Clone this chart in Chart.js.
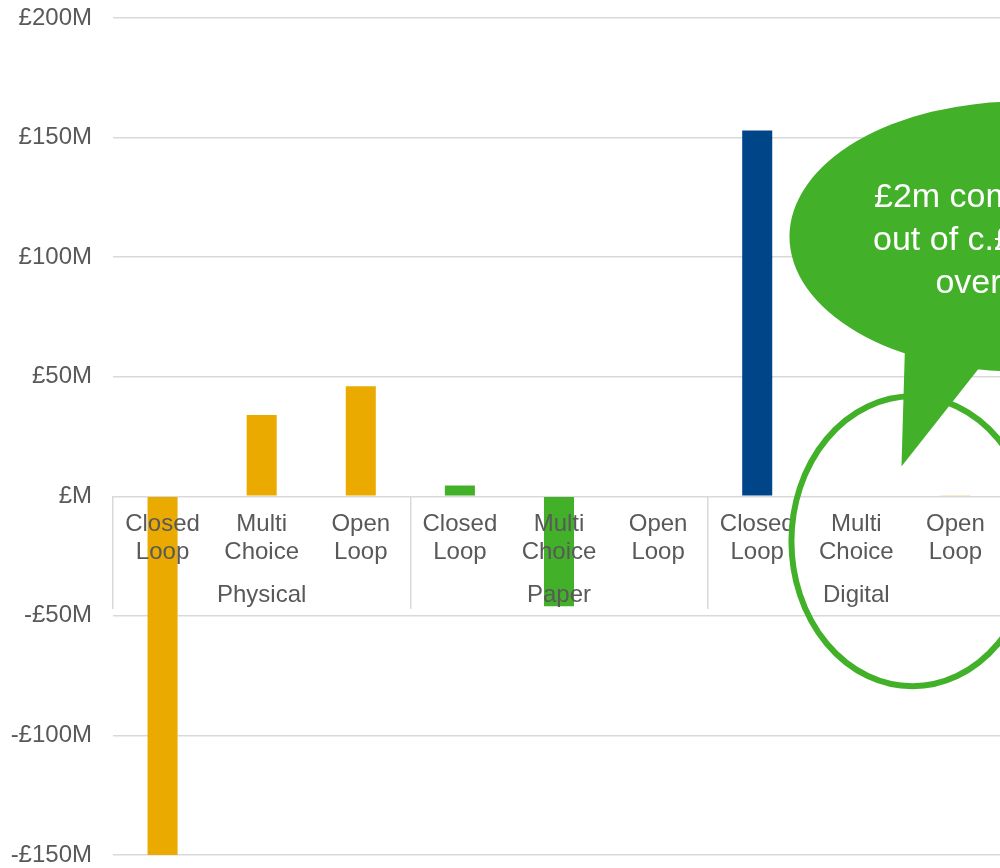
<!DOCTYPE html>
<html lang="en">
<head>
<meta charset="UTF-8">
<title>Gift card value by format</title>
<script src="https://cdn.jsdelivr.net/npm/chart.js"></script>
<style>
  body { margin: 0; padding: 0; overflow: hidden; background: #fff; }
  #wrap { width: 1005px; height: 868px; }
</style>
</head>
<body>
<div id="wrap"><canvas id="valueChart" width="1005" height="868"></canvas></div>
<script>
// card types, repeated for each format
const cardTypes = [
  ['Closed', 'Loop'], ['Multi', 'Choice'], ['Open', 'Loop'],
  ['Closed', 'Loop'], ['Multi', 'Choice'], ['Open', 'Loop'],
  ['Closed', 'Loop'], ['Multi', 'Choice'], ['Open', 'Loop']
];
const formats = ['Physical', 'Paper', 'Digital'];

// value in £M
const values = [-150, 34, 46, 4.5, -46, 0, 153, 0, 0.5];
const barColours = ['#eaaa00', '#eaaa00', '#eaaa00', '#43b02a', '#43b02a', '#43b02a', '#004587', '#004587', '#f3d58a'];

const yMin = -150;
const yMax = 200;
const yStep = 50;

const calloutLines = ['£2m combined', 'out of c.£150m', 'overall'];

const GREEN = '#43b02a';
const GRID = '#d9d9d9';
const TEXT = '#595959';

Chart.defaults.font.family = 'Arial, "Liberation Sans", sans-serif';
Chart.defaults.font.size = 24;
Chart.defaults.color = TEXT;

// speech bubble + ring around the two small digital bars
const calloutPlugin = {
  id: 'callout',
  afterDraw(chart) {
    const { ctx } = chart;
    const x = chart.scales.x;
    const y = chart.scales.y;

    // ring
    const rx = x.getPixelForValue(7.566);
    const ry = y.getPixelForValue(-18.8);
    ctx.save();
    ctx.strokeStyle = GREEN;
    ctx.lineWidth = 6;
    ctx.beginPath();
    ctx.ellipse(rx, ry, 121, 145, 0, 0, Math.PI * 2);
    ctx.stroke();

    // bubble
    const bx = x.getPixelForValue(8.646);
    const by = y.getPixelForValue(108.6);
    ctx.fillStyle = GREEN;
    ctx.beginPath();
    ctx.ellipse(bx, by, 230, 135, 0, 0, Math.PI * 2);
    ctx.fill();
    ctx.beginPath();
    ctx.moveTo(bx - 114, by + 93);
    ctx.lineTo(bx - 118, by + 230);
    ctx.lineTo(bx - 10, by + 93);
    ctx.closePath();
    ctx.fill();

    ctx.fillStyle = '#ffffff';
    ctx.font = '34px Arial, "Liberation Sans", sans-serif';
    ctx.textAlign = 'center';
    ctx.textBaseline = 'alphabetic';
    calloutLines.forEach((line, i) => {
      ctx.fillText(line, bx - 34, by - 30 + i * 43);
    });
    ctx.restore();
  }
};

new Chart(document.getElementById('valueChart'), {
  type: 'bar',
  data: {
    labels: cardTypes,
    datasets: [{
      data: values,
      xAxisID: 'x',
      backgroundColor: barColours,
      borderWidth: 0,
      categoryPercentage: 1,
      barPercentage: 0.303
    }]
  },
  options: {
    responsive: false,
    animation: false,
    layout: { padding: { left: 0, right: 0, top: 18, bottom: 13 } },
    plugins: {
      legend: { display: false },
      tooltip: { enabled: false }
    },
    scales: {
      x: {
        type: 'category',
        position: { y: 0 },
        offset: true,
        grid: { display: false, drawTicks: false },
        border: { display: false },
        ticks: {
          autoSkip: false,
          maxRotation: 0,
          padding: 14,
          z: 1,
          font: { size: 24, lineHeight: 1.17 }
        }
      },
      group: {
        type: 'category',
        axis: 'x',
        labels: formats,
        position: { y: 0 },
        offset: true,
        grid: {
          offset: true,
          drawOnChartArea: false,
          tickLength: 113,
          color: GRID,
          lineWidth: 1.5
        },
        border: { display: false },
        ticks: { padding: -28, z: 1, maxRotation: 0 }
      },
      y: {
        min: yMin,
        max: yMax,
        ticks: {
          stepSize: yStep,
          padding: 21,
          callback: v => (v < 0 ? '-' : '') + '£' + (v === 0 ? '' : Math.abs(v)) + 'M'
        },
        grid: { color: GRID, lineWidth: 1.5, drawTicks: false },
        border: { display: false },
        // fixed axis width, and let the end labels hang over the plot edges
        afterFit(scale) {
          scale.width = 113;
          scale.paddingTop = 0;
          scale.paddingBottom = 0;
        }
      }
    }
  },
  plugins: [calloutPlugin]
});
</script>
</body>
</html>
